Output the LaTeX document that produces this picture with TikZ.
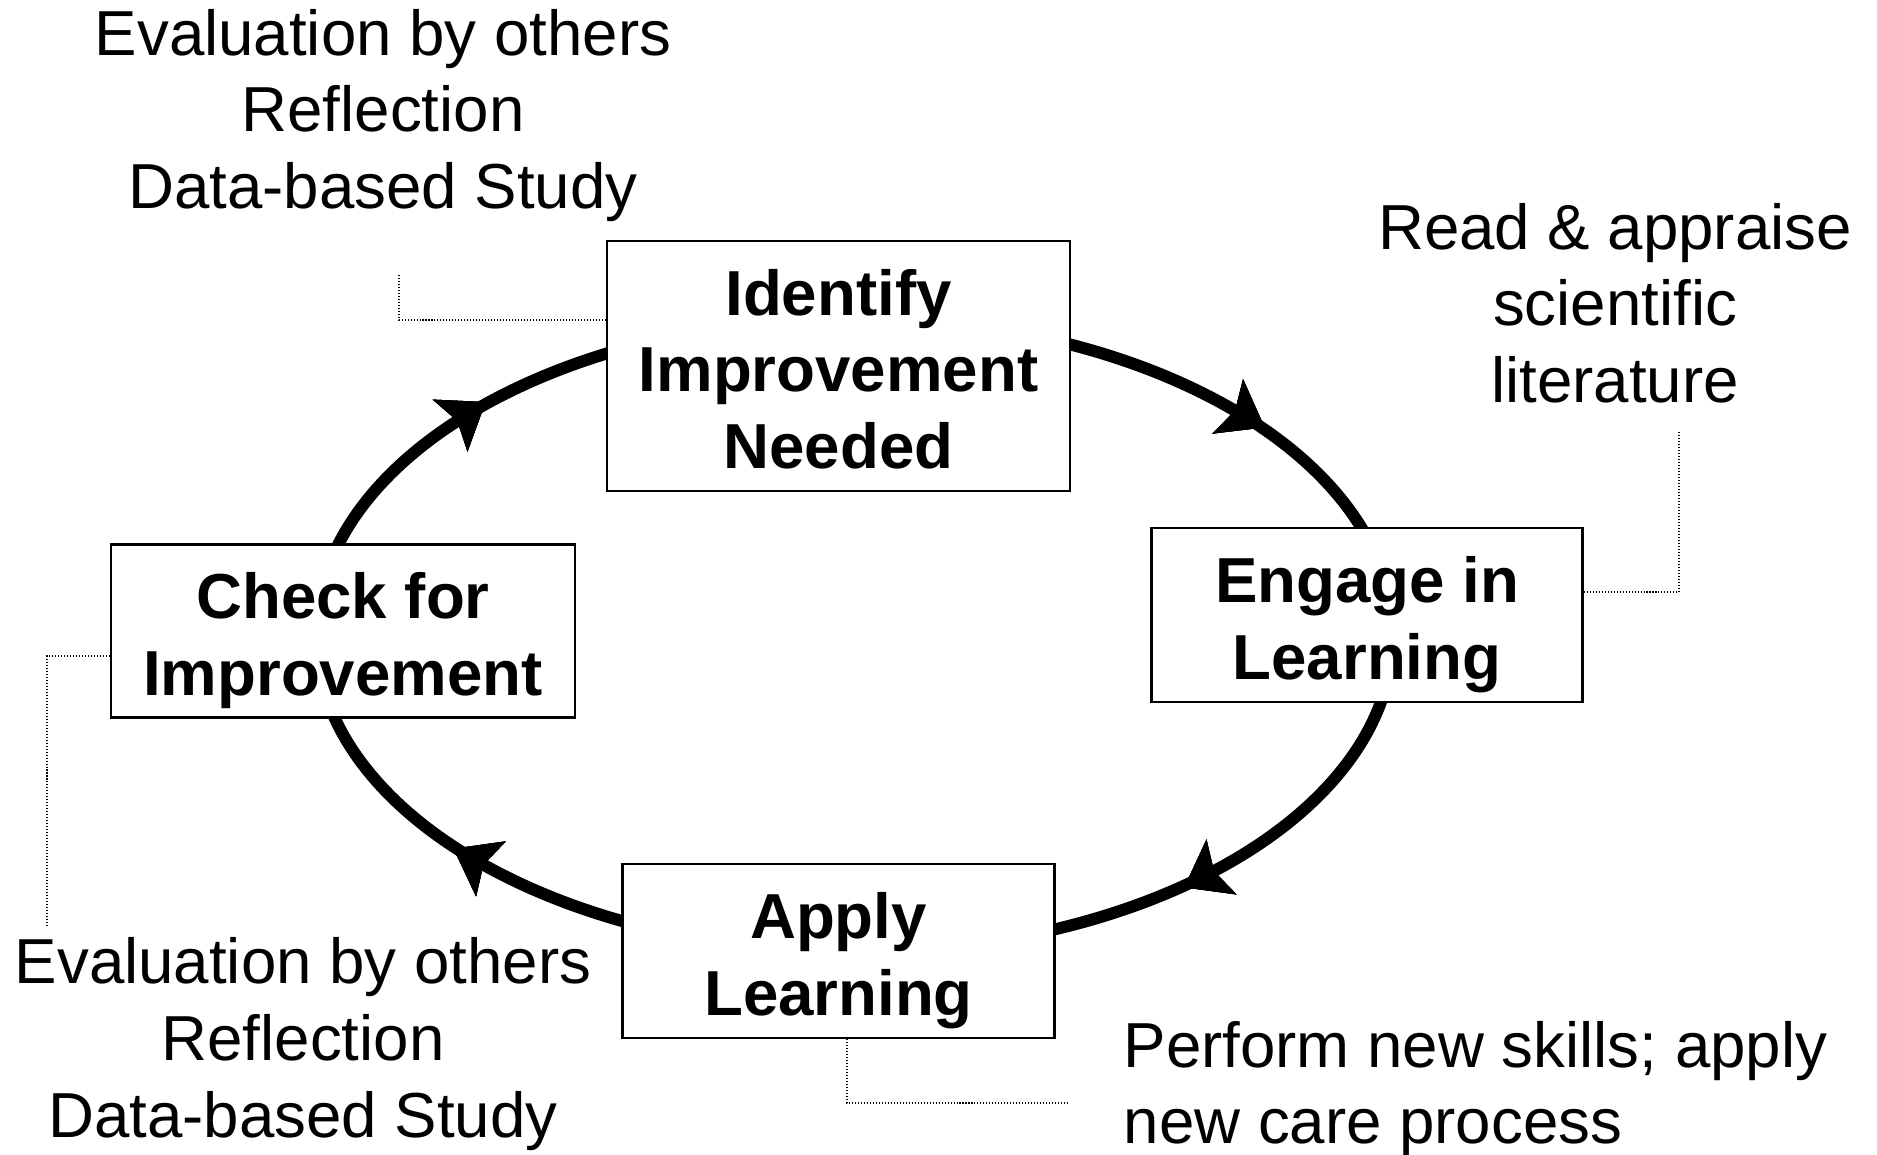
\documentclass[tikz,border=0pt]{standalone}
\usepackage{fontspec}
\setmainfont{Liberation Sans}
\usetikzlibrary{positioning, arrows.meta, decorations.markings}

\newcommand{\hi}{\rule{0pt}{6.6mm}}
\newcommand{\lo}{\rule[-1.4mm]{0pt}{1.4mm}}

\begin{document}
\begin{tikzpicture}[
	stage/.style	={draw, fill=white, line width=0.7pt, align=center, inner sep=0pt,
					  font=\fontsize{18.1}{21.8}\selectfont\bfseries},
	note/.style		={align=center, inner sep=0pt, font=\fontsize{18.1}{21.8}\selectfont},
	leader/.style	={line width=0.45pt, dash pattern=on 0.3pt off 0.55pt},
	tip/.style		={decoration={markings, mark=at position #1 with
					  {\arrow{Stealth[length=4.2mm, width=6.1mm, inset=0.8mm, reversed]}}},
					  postaction={decorate}},
	cycle/.style	={line width=3.4pt, tip=0.108, tip=0.405, tip=0.612, tip=0.889}
]
	\useasboundingbox (0,0) rectangle (18.77,11.54);

	\coordinate		(hub)	at (8.545,5.19);
	\draw[cycle]	(hub) ellipse [x radius=5.385, y radius=3.17];

	\node[stage, minimum width=4.63cm, minimum height=2.50cm] (ident)	at (8.385,7.88)	{\hi Identify\\Improvement\\Needed\lo};
	\node[stage, minimum width=4.31cm, minimum height=1.74cm] (engage)	at (13.67,5.39)	{\hi Engage in\\Learning\lo};
	\node[stage, minimum width=4.32cm, minimum height=1.74cm] (apply)	at (8.385,2.03)	{\hi Apply\\Learning\lo};
	\node[stage, minimum width=4.64cm, minimum height=1.73cm] (check)	at (3.43,5.23)	{\hi Check for\\Improvement\lo};

	\node[note]				(evaltop)	at (3.83,10.385)	{Evaluation by others\\Reflection\\Data-based Study};
	\node[note]				(read)		at (16.15,8.51)		{Read \& appraise\\scientific\\literature};
	\node[note]				(evalbot)	at (3.03,1.10)		{Evaluation by others\\Reflection\\Data-based Study};
	\node[note, align=left, anchor=west] (perform) at (11.23,0.65) {Perform new skills; apply\\new care process};

	\coordinate		(tl)	at (3.99,8.79);
	\coordinate		(tr)	at (16.79,7.22);
	\coordinate		(bl)	at (0.47,2.29);
	\coordinate		(br)	at (10.68,0.51);

	\draw[leader]	([yshift=4.6mm]ident.west)		-| (tl);
	\draw[leader]	([yshift=2.3mm]engage.east)		-| (tr);
	\draw[leader]	([yshift=-2.5mm]check.west)		-| (bl);
	\draw[leader]	([xshift=0.85mm]apply.south)	|- (br);
\end{tikzpicture}
\end{document}
